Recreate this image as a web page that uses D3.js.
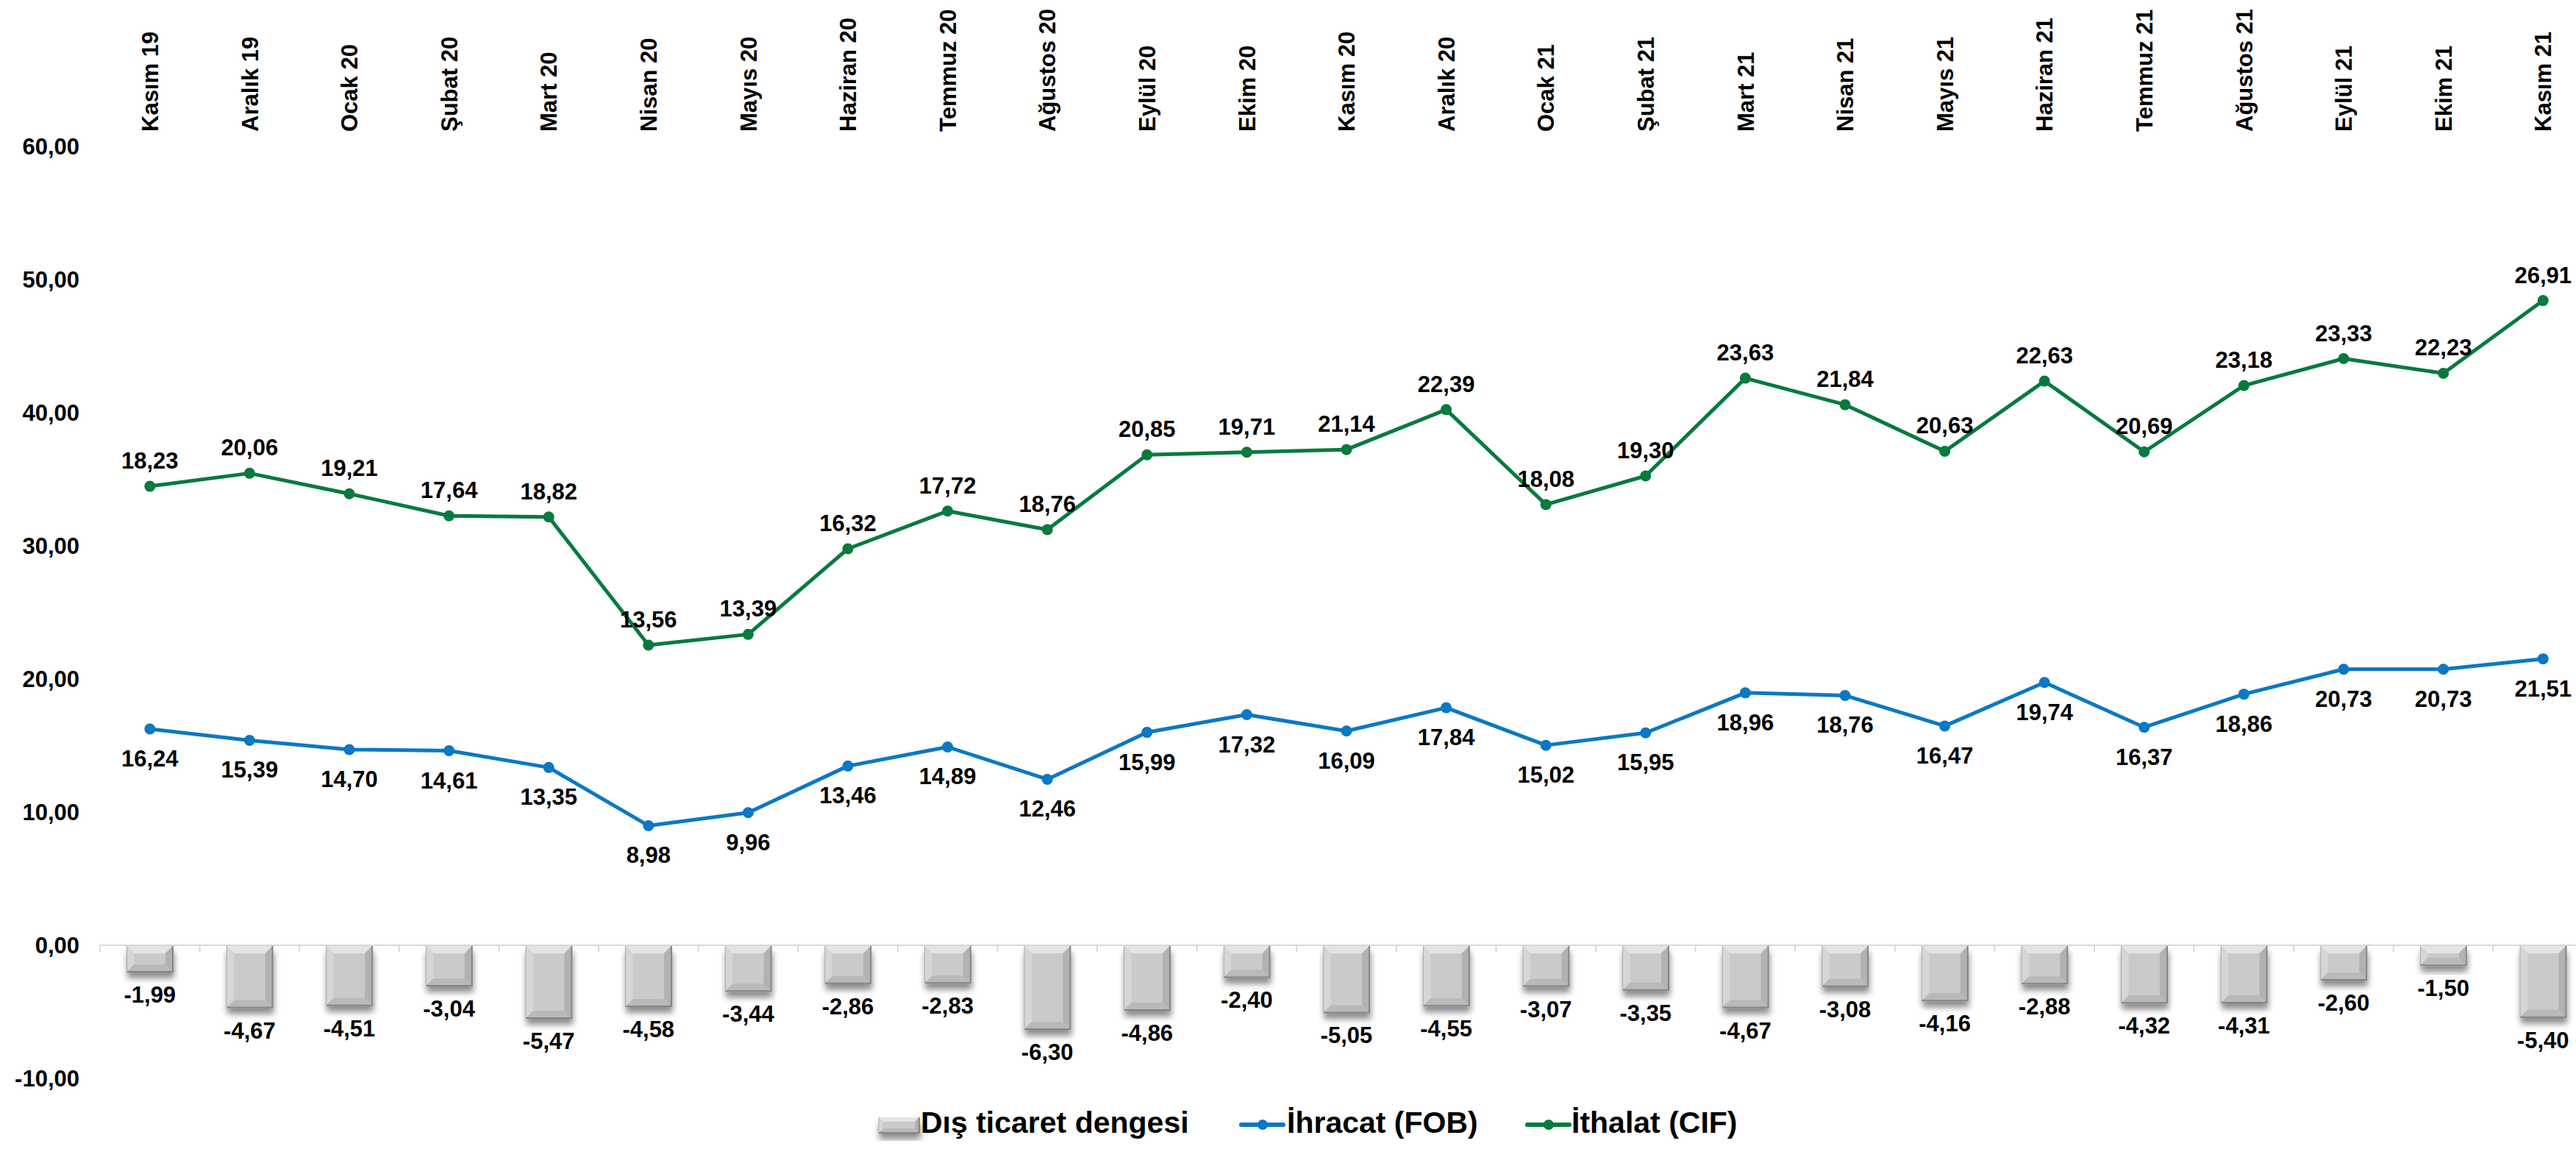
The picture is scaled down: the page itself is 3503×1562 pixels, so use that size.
<!DOCTYPE html>
<html><head><meta charset="utf-8">
<script src="https://cdn.jsdelivr.net/npm/d3@7"></script>
<style>
body{margin:0;background:#fff;}
svg{display:block;background:#fff;}
text{font-family:"Liberation Sans",Arial,sans-serif;font-weight:bold;fill:#000;}
</style>
</head><body>
<svg id="chart" width="3503" height="1562"></svg>
<script>
const categories = ["Kasım 19","Aralık 19","Ocak 20","Şubat 20","Mart 20","Nisan 20","Mayıs 20","Haziran 20","Temmuz 20","Ağustos 20","Eylül 20","Ekim 20","Kasım 20","Aralık 20","Ocak 21","Şubat 21","Mart 21","Nisan 21","Mayıs 21","Haziran 21","Temmuz 21","Ağustos 21","Eylül 21","Ekim 21","Kasım 21"];
const ihracat = [16.24,15.39,14.70,14.61,13.35,8.98,9.96,13.46,14.89,12.46,15.99,17.32,16.09,17.84,15.02,15.95,18.96,18.76,16.47,19.74,16.37,18.86,20.73,20.73,21.51];
const ithalat = [18.23,20.06,19.21,17.64,18.82,13.56,13.39,16.32,17.72,18.76,20.85,19.71,21.14,22.39,18.08,19.30,23.63,21.84,20.63,22.63,20.69,23.18,23.33,22.23,26.91];
const denge = [-1.99,-4.67,-4.51,-3.04,-5.47,-4.58,-3.44,-2.86,-2.83,-6.30,-4.86,-2.40,-5.05,-4.55,-3.07,-3.35,-4.67,-3.08,-4.16,-2.88,-4.32,-4.31,-2.60,-1.50,-5.40];
const yTicks = [-10,0,10,20,30,40,50,60];
const seriesNames = ["Dış ticaret dengesi","İhracat (FOB)","İthalat (CIF)"];

const BLUE = "#0a78c4", GREEN = "#077a3e";
const fmt = d3.formatLocale({decimal:",",thousands:".",grouping:[3],currency:["",""],minus:"-"}).format(".2f");

const svg = d3.select("#chart");
const defs = svg.append("defs");
const f = defs.append("filter").attr("id","shadow").attr("x","-30%").attr("y","-30%").attr("width","160%").attr("height","180%");
f.append("feGaussianBlur").attr("in","SourceAlpha").attr("stdDeviation",4).attr("result","b");
f.append("feOffset").attr("in","b").attr("dx",1).attr("dy",8).attr("result","o");
f.append("feComponentTransfer").attr("in","o").attr("result","s").append("feFuncA").attr("type","linear").attr("slope",0.45);
const fm = f.append("feMerge"); fm.append("feMergeNode").attr("in","s"); fm.append("feMergeNode").attr("in","SourceGraphic");

const step = 135.6, left = 136;
const x = d3.scaleBand().domain(categories).range([left, left + categories.length*step]).padding(0);
const y = d3.scaleLinear().domain([-10,60]).range([1466,199]);
const cx = c => x(c) + x.bandwidth()/2;
const barW = x.bandwidth()*0.46;

// y axis labels
svg.append("g").selectAll("text").data(yTicks).join("text")
  .attr("x",108).attr("y",d=>y(d)).attr("dy","0.35em")
  .attr("text-anchor","end").attr("font-size",31).text(d=>fmt(d));

// top category labels
svg.append("g").selectAll("text").data(categories).join("text")
  .attr("transform",d=>`translate(${cx(d)},179) rotate(-90)`)
  .attr("dy","0.36em").attr("text-anchor","start").attr("font-size",31).text(d=>d);

// zero line + ticks
svg.append("line").attr("x1",x.range()[0]).attr("x2",x.range()[1]).attr("y1",y(0)).attr("y2",y(0))
  .attr("stroke","#d9d9d9").attr("stroke-width",2);
svg.append("g").selectAll("line").data(categories.concat(["__end"])).join("line")
  .attr("x1",d=>d==="__end"?x.range()[1]:x(d)).attr("x2",d=>d==="__end"?x.range()[1]:x(d))
  .attr("y1",y(0)).attr("y2",y(0)+9).attr("stroke","#d9d9d9").attr("stroke-width",2);

// bevel bar drawing
function bevelBar(g, x0, y0, w, h, b){
  const x1 = x0+w, y1 = y0+h;
  b = Math.min(b, h/2.2, w/2.2);
  const gg = g.append("g").attr("filter","url(#shadow)");
  gg.append("rect").attr("x",x0).attr("y",y0).attr("width",w).attr("height",h).attr("fill","#cacaca");
  const poly = (pts, fill) => gg.append("polygon").attr("points",pts.map(p=>p.join(",")).join(" ")).attr("fill",fill);
  poly([[x0,y0],[x1,y0],[x1-b,y0+b],[x0+b,y0+b]], "#e4e4e4");
  poly([[x0,y0],[x0+b,y0+b],[x0+b,y1-b],[x0,y1]], "#d6d6d6");
  poly([[x1,y0],[x1,y1],[x1-b,y1-b],[x1-b,y0+b]], "#b2b2b2");
  poly([[x0,y1],[x1,y1],[x1-b,y1-b],[x0+b,y1-b]], "#b9b9b9");
  gg.append("polyline").attr("points",`${x1},${y0} ${x1},${y1} ${x0},${y1}`).attr("fill","none").attr("stroke","#858585").attr("stroke-width",2);
  gg.append("polyline").attr("points",`${x0},${y1} ${x0},${y0}`).attr("fill","none").attr("stroke","#a8a8a8").attr("stroke-width",1);
}

const bars = svg.append("g");
categories.forEach((c,i)=>{
  const y0 = y(0)+1, y1 = y(denge[i]);
  bevelBar(bars, cx(c)-barW/2, y0, barW, y1-y0, 10);
});
svg.append("g").selectAll("text").data(categories).join("text")
  .attr("x",d=>cx(d)).attr("y",(d,i)=>y(denge[i])+42).attr("text-anchor","middle")
  .attr("font-size",31).text((d,i)=>fmt(denge[i]));

// lines
const stacked = ithalat.map((v,i)=>v+ihracat[i]);
const line = d3.line().x((d,i)=>cx(categories[i])).y(d=>y(d));
svg.append("path").datum(ihracat).attr("d",line).attr("fill","none").attr("stroke",BLUE).attr("stroke-width",5).attr("stroke-linejoin","round");
svg.append("path").datum(stacked).attr("d",line).attr("fill","none").attr("stroke",GREEN).attr("stroke-width",5).attr("stroke-linejoin","round");
svg.append("g").selectAll("circle").data(ihracat).join("circle")
  .attr("cx",(d,i)=>cx(categories[i])).attr("cy",d=>y(d)).attr("r",7.5).attr("fill",BLUE);
svg.append("g").selectAll("circle").data(stacked).join("circle")
  .attr("cx",(d,i)=>cx(categories[i])).attr("cy",d=>y(d)).attr("r",7.5).attr("fill",GREEN);

svg.append("g").selectAll("text").data(ihracat).join("text")
  .attr("x",(d,i)=>cx(categories[i])).attr("y",d=>y(d)+51).attr("text-anchor","middle")
  .attr("font-size",31).text(d=>fmt(d));
svg.append("g").selectAll("text").data(ithalat).join("text")
  .attr("x",(d,i)=>cx(categories[i])).attr("y",(d,i)=>y(stacked[i])-24).attr("text-anchor","middle")
  .attr("font-size",31).text(d=>fmt(d));

// legend
const lg = svg.append("g");
bevelBar(lg, 1195, 1519, 55, 21, 6);
lg.append("text").attr("x",1252).attr("y",1540).attr("font-size",41).text(seriesNames[0]);
lg.append("line").attr("x1",1688).attr("x2",1745).attr("y1",1529).attr("y2",1529).attr("stroke",BLUE).attr("stroke-width",6).attr("stroke-linecap","round");
lg.append("circle").attr("cx",1717).attr("cy",1529).attr("r",7).attr("fill",BLUE);
lg.append("text").attr("x",1750).attr("y",1540).attr("font-size",41).text(seriesNames[1]);
lg.append("line").attr("x1",2077).attr("x2",2134).attr("y1",1529).attr("y2",1529).attr("stroke",GREEN).attr("stroke-width",6).attr("stroke-linecap","round");
lg.append("circle").attr("cx",2106).attr("cy",1529).attr("r",7).attr("fill",GREEN);
lg.append("text").attr("x",2137).attr("y",1540).attr("font-size",41).text(seriesNames[2]);
</script>
</body></html>
